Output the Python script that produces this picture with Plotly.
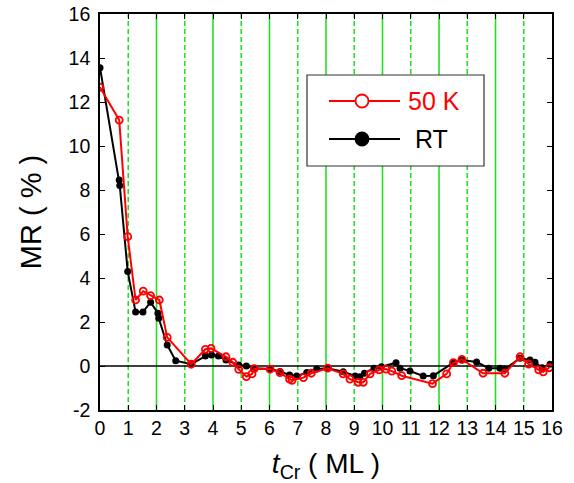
import plotly.graph_objects as go

# MR versus Cr thickness, measured at 50 K and at room temperature
t_50k = [0.0, 0.68, 0.98, 1.26, 1.53, 1.79, 2.10, 2.38, 3.23, 3.73, 3.93, 4.46, 4.70,
         4.91, 5.18, 5.38, 5.46, 6.02, 6.37, 6.71, 6.80, 7.20, 7.48, 8.06, 8.61, 8.85,
         9.14, 9.32, 9.56, 9.88, 10.12, 10.33, 10.68, 11.77, 12.27, 12.51, 12.81,
         13.56, 14.33, 14.87, 15.17, 15.53, 15.69, 15.90]
mr_50k = [12.67, 11.18, 5.88, 3.00, 3.40, 3.20, 3.00, 1.30, 0.08, 0.76, 0.80, 0.42, 0.17,
          -0.15, -0.48, -0.36, -0.12, -0.14, -0.30, -0.60, -0.65, -0.53, -0.33, -0.10,
          -0.36, -0.60, -0.74, -0.74, -0.36, -0.18, -0.14, -0.23, -0.44, -0.80, -0.36,
          0.15, 0.30, -0.33, -0.33, 0.42, 0.09, -0.18, -0.27, -0.08]

t_rt = [0.0, 0.68, 0.70, 0.98, 1.26, 1.52, 1.79, 2.05, 2.08, 2.38, 2.68, 3.23, 3.73,
        3.95, 4.19, 4.46, 4.91, 5.18, 5.46, 6.02, 6.37, 6.71, 6.96, 7.32, 7.67, 8.06,
        8.61, 9.03, 9.20, 9.36, 9.70, 9.96, 10.48, 10.62, 10.97, 11.44, 11.80, 12.51,
        12.81, 13.33, 13.76, 14.16, 14.33, 14.87, 15.22, 15.40, 15.65, 15.93]
mr_rt = [13.56, 8.45, 8.20, 4.30, 2.45, 2.45, 2.90, 2.40, 2.17, 0.95, 0.24, 0.08, 0.45,
         0.50, 0.45, 0.27, 0.05, 0.00, -0.10, -0.14, -0.25, -0.41, -0.45, -0.30, -0.14,
         -0.10, -0.26, -0.45, -0.49, -0.33, -0.10, -0.03, 0.15, -0.10, -0.23, -0.45,
         -0.44, 0.15, 0.27, 0.18, -0.10, -0.10, -0.14, 0.35, 0.27, 0.17, -0.08, 0.08]

x_ticks = list(range(0, 17))
y_ticks = list(range(-2, 17, 2))

RED = "#ff0000"
GREEN = "#22e022"
FONT = "Liberation Sans, Arial, sans-serif"

fig = go.Figure()

# room-temperature curve first so the 50 K curve sits on top
fig.add_trace(go.Scatter(
    x=t_rt, y=mr_rt, mode="lines+markers", name="RT",
    line=dict(color="black", width=2),
    marker=dict(symbol="circle", size=7, color="black"),
    showlegend=False,
))
fig.add_trace(go.Scatter(
    x=t_50k, y=mr_50k, mode="lines+markers", name="50 K",
    line=dict(color=RED, width=2),
    marker=dict(symbol="circle-open", size=7, color=RED, line=dict(width=1.8)),
    showlegend=False,
))

shapes = []
# vertical guide lines: solid at even thickness, dashed at odd
for v in range(1, 16):
    shapes.append(dict(
        type="line", xref="x", yref="paper", x0=v, x1=v, y0=0, y1=1,
        line=dict(color=GREEN, width=1.6, dash="solid" if v % 2 == 0 else "5px,3px"),
        layer="below",
    ))
# zero line
shapes.append(dict(type="line", xref="paper", yref="y", x0=0, x1=1, y0=0, y1=0,
                   line=dict(color="black", width=1.6), layer="below"))

# legend box drawn in paper coordinates
PLOT_L, PLOT_R, PLOT_T, PLOT_B = 100, 552, 14, 410


def px_to_paper_x(px):
    return (px - PLOT_L) / (PLOT_R - PLOT_L)


def px_to_paper_y(py):
    return (PLOT_B - py) / (PLOT_B - PLOT_T)


shapes.append(dict(type="rect", xref="paper", yref="paper",
                   x0=px_to_paper_x(307), x1=px_to_paper_x(484),
                   y0=px_to_paper_y(166), y1=px_to_paper_y(75),
                   line=dict(color="#333333", width=1.2), fillcolor="white"))
for py, col, fill in [(101, RED, "white"), (139, "black", "black")]:
    shapes.append(dict(type="line", xref="paper", yref="paper",
                       x0=px_to_paper_x(329), x1=px_to_paper_x(400),
                       y0=px_to_paper_y(py), y1=px_to_paper_y(py),
                       line=dict(color=col, width=1.8)))
    r = 6.5
    shapes.append(dict(type="circle", xref="paper", yref="paper",
                       x0=px_to_paper_x(362 - r), x1=px_to_paper_x(362 + r),
                       y0=px_to_paper_y(py + r), y1=px_to_paper_y(py - r),
                       line=dict(color=col, width=1.8), fillcolor=fill))

annotations = [
    dict(text="50 K", xref="paper", yref="paper", x=px_to_paper_x(406), y=px_to_paper_y(101),
         xanchor="left", yanchor="middle", showarrow=False,
         font=dict(family=FONT, size=25, color=RED)),
    dict(text="RT", xref="paper", yref="paper", x=px_to_paper_x(413), y=px_to_paper_y(139),
         xanchor="left", yanchor="middle", showarrow=False,
         font=dict(family=FONT, size=25, color="black")),
]

fig.update_layout(
    width=574, height=483,
    margin=dict(l=PLOT_L, r=574 - PLOT_R, t=PLOT_T, b=483 - PLOT_B),
    paper_bgcolor="white", plot_bgcolor="white",
    font=dict(family=FONT, size=19.5, color="black"),
    shapes=shapes, annotations=annotations,
    xaxis=dict(
        range=[0, 16], tickvals=x_ticks, ticktext=[str(v) for v in x_ticks],
        ticks="inside", ticklen=5, tickwidth=1.3, tickcolor="black",
        showline=True, linecolor="black", linewidth=1.6, mirror="ticks",
        showgrid=False, zeroline=False, automargin=False,
        title=dict(text="<i>t</i><sub>Cr</sub> ( ML )", font=dict(size=28), standoff=16),
    ),
    yaxis=dict(
        range=[-2, 16], tickvals=y_ticks, ticktext=[str(v) for v in y_ticks],
        ticks="inside", ticklen=5, tickwidth=1.3, tickcolor="black",
        ticklabelstandoff=4,
        showline=True, linecolor="black", linewidth=1.6, mirror="ticks",
        showgrid=False, zeroline=False, automargin=False,
        title=dict(text="MR ( % )", font=dict(size=29), standoff=18),
    ),
)

fig.write_html("out.html")
